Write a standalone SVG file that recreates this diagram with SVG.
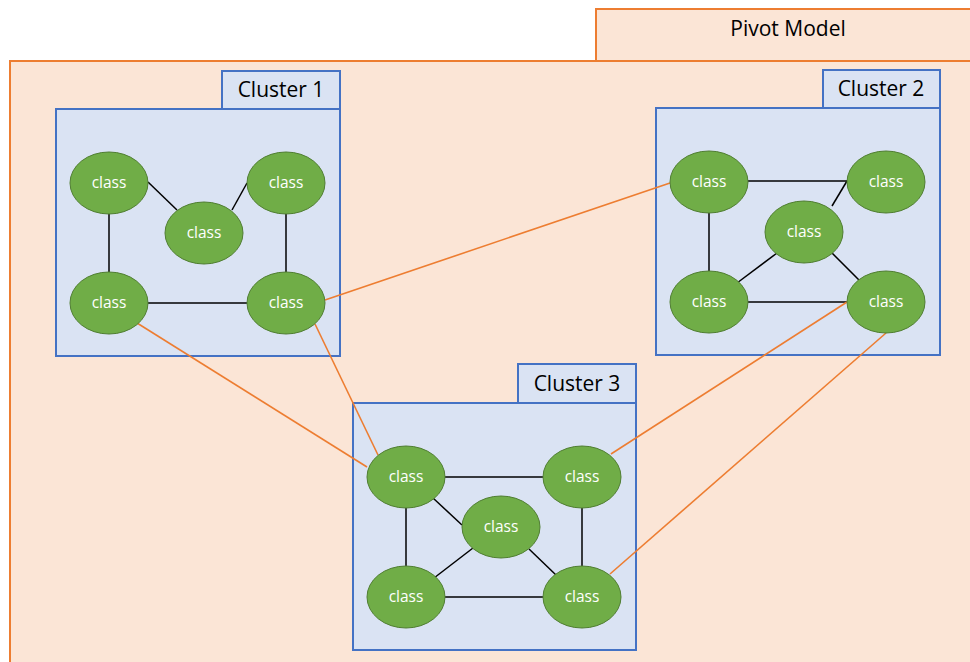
<svg xmlns="http://www.w3.org/2000/svg" width="970" height="662" viewBox="0 0 970 662">
<style>
.pv{fill:#FBE5D6;stroke:#ED7D31;stroke-width:2}
.cl{fill:#DAE3F3;stroke:#4472C4;stroke-width:2}
.cls{fill:#70AD47;stroke:#507E32;stroke-width:1}
.ct{font-family:"Open Sans","Liberation Sans",sans-serif;font-size:15.5px;fill:#ffffff;text-anchor:middle}
.lt{font-family:"Open Sans","Liberation Sans",sans-serif;font-size:21px;fill:#000000;text-anchor:middle}
.bk{stroke:#000000;stroke-width:1.5;fill:none}
.or{stroke:#ED7D31;stroke-width:1.6;fill:none}
</style>
<rect width="970" height="662" fill="#ffffff"/>
<g id="pivot">
<rect class="pv" x="10" y="61" width="970" height="620"/>
<rect class="pv" x="596" y="9" width="380" height="52"/>
<text class="lt" x="788" y="30" dominant-baseline="middle">Pivot Model</text>
</g>
<g id="cluster1">
<rect class="cl" x="222" y="71" width="118" height="38"/>
<text class="lt" x="281" y="91" dominant-baseline="middle">Cluster 1</text>
<rect class="cl" x="56" y="109" width="284" height="247"/>
</g>
<g id="cluster2">
<rect class="cl" x="823" y="70" width="117" height="38"/>
<text class="lt" x="881" y="90" dominant-baseline="middle">Cluster 2</text>
<rect class="cl" x="656" y="108" width="284" height="247"/>
</g>
<g id="cluster3">
<rect class="cl" x="518" y="364" width="118" height="39"/>
<text class="lt" x="577" y="385" dominant-baseline="middle">Cluster 3</text>
<rect class="cl" x="353" y="403" width="283" height="247"/>
</g>
<g id="connectors">
<line class="bk" x1="148" y1="182" x2="177" y2="210"/>
<line class="bk" x1="232" y1="210" x2="247" y2="183"/>
<line class="bk" x1="109" y1="214" x2="109" y2="272"/>
<line class="bk" x1="286" y1="214" x2="286" y2="272"/>
<line class="bk" x1="148" y1="303" x2="247" y2="303"/>
<line class="bk" x1="748" y1="181" x2="847" y2="181"/>
<line class="bk" x1="709" y1="213" x2="709" y2="271"/>
<line class="bk" x1="832" y1="206" x2="847" y2="181"/>
<line class="bk" x1="737" y1="283" x2="777" y2="253"/>
<line class="bk" x1="748" y1="302" x2="847" y2="302"/>
<line class="bk" x1="832" y1="253" x2="859" y2="280"/>
<line class="bk" x1="445" y1="477" x2="543" y2="477"/>
<line class="bk" x1="406" y1="508" x2="406" y2="566"/>
<line class="bk" x1="582" y1="508" x2="582" y2="566"/>
<line class="bk" x1="433" y1="498" x2="462" y2="525"/>
<line class="bk" x1="434" y1="578" x2="473" y2="548"/>
<line class="bk" x1="529" y1="549" x2="556" y2="575"/>
<line class="bk" x1="445" y1="597" x2="543" y2="597"/>
<line class="or" x1="325" y1="300" x2="670" y2="183"/>
<line class="or" x1="137" y1="323" x2="367" y2="467"/>
<line class="or" x1="315" y1="324" x2="378" y2="455"/>
<line class="or" x1="847" y1="302" x2="611" y2="454"/>
<line class="or" x1="886" y1="333" x2="610" y2="574"/>
</g>
<g id="c1n1"><ellipse class="cls" cx="109" cy="183" rx="39" ry="31"/><text class="ct" x="109" y="184" dominant-baseline="middle">class</text></g>
<g id="c1n2"><ellipse class="cls" cx="204" cy="233" rx="39" ry="31"/><text class="ct" x="204" y="234" dominant-baseline="middle">class</text></g>
<g id="c1n3"><ellipse class="cls" cx="286" cy="183" rx="39" ry="31"/><text class="ct" x="286" y="184" dominant-baseline="middle">class</text></g>
<g id="c1n4"><ellipse class="cls" cx="109" cy="303" rx="39" ry="31"/><text class="ct" x="109" y="304" dominant-baseline="middle">class</text></g>
<g id="c1n5"><ellipse class="cls" cx="286" cy="303" rx="39" ry="31"/><text class="ct" x="286" y="304" dominant-baseline="middle">class</text></g>
<g id="c2n1"><ellipse class="cls" cx="709" cy="182" rx="39" ry="31"/><text class="ct" x="709" y="183" dominant-baseline="middle">class</text></g>
<g id="c2n2"><ellipse class="cls" cx="804" cy="232" rx="39" ry="31"/><text class="ct" x="804" y="233" dominant-baseline="middle">class</text></g>
<g id="c2n3"><ellipse class="cls" cx="886" cy="182" rx="39" ry="31"/><text class="ct" x="886" y="183" dominant-baseline="middle">class</text></g>
<g id="c2n4"><ellipse class="cls" cx="709" cy="302" rx="39" ry="31"/><text class="ct" x="709" y="303" dominant-baseline="middle">class</text></g>
<g id="c2n5"><ellipse class="cls" cx="886" cy="302" rx="39" ry="31"/><text class="ct" x="886" y="303" dominant-baseline="middle">class</text></g>
<g id="c3n1"><ellipse class="cls" cx="406" cy="477" rx="39" ry="31"/><text class="ct" x="406" y="478" dominant-baseline="middle">class</text></g>
<g id="c3n2"><ellipse class="cls" cx="501" cy="527" rx="39" ry="31"/><text class="ct" x="501" y="528" dominant-baseline="middle">class</text></g>
<g id="c3n3"><ellipse class="cls" cx="582" cy="477" rx="39" ry="31"/><text class="ct" x="582" y="478" dominant-baseline="middle">class</text></g>
<g id="c3n4"><ellipse class="cls" cx="406" cy="597" rx="39" ry="31"/><text class="ct" x="406" y="598" dominant-baseline="middle">class</text></g>
<g id="c3n5"><ellipse class="cls" cx="582" cy="597" rx="39" ry="31"/><text class="ct" x="582" y="598" dominant-baseline="middle">class</text></g>
</svg>
